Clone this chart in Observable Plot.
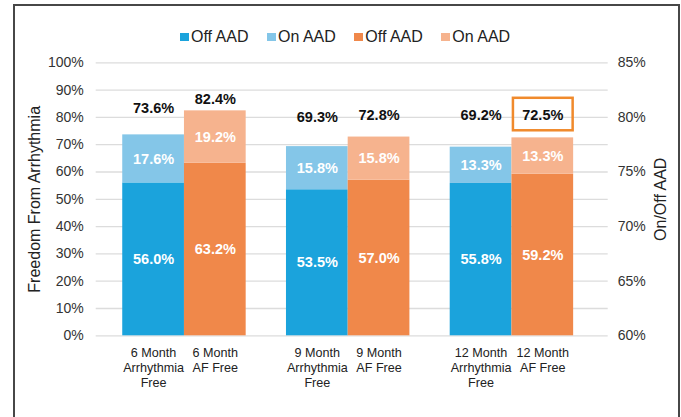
<!DOCTYPE html>
<html>
<head>
<meta charset="utf-8">
<script src="https://cdn.jsdelivr.net/npm/d3@7"></script>
<script src="https://cdn.jsdelivr.net/npm/@observablehq/plot@0.6"></script>
<style>
  html, body { margin: 0; padding: 0; background: #fff; }
  #wrap { position: relative; width: 681px; height: 417px; overflow: hidden; font-family: "Liberation Sans", Arial, sans-serif; }
  #frame { position: absolute; left: 13px; top: 3.5px; width: 667px; height: 480px; border: 2px solid #474747; box-sizing: border-box; }
  #legend { position: absolute; left: 180px; top: 29px; display: flex; align-items: center; gap: 18.5px; font-size: 16px; color: #222; line-height: 16px; }
  #legend .item { display: flex; align-items: center; gap: 2.5px; }
  #legend .sw { width: 8.5px; height: 8.5px; display: inline-block; }
  #chart { position: absolute; left: 0; top: 0; }
</style>
</head>
<body>
<div id="wrap">
  <div id="chart"></div>
  <div id="frame"></div>
  <div id="legend"></div>
</div>
<script>
// ---- data ----
const groups = ["6 Month", "9 Month", "12 Month"];
const measures = ["Arrhythmia Free", "AF Free"];
const offAAD = [56.0, 63.2, 53.5, 57.0, 55.8, 59.2];
const onAAD = [17.6, 19.2, 15.8, 15.8, 13.3, 13.3];
const totals = [73.6, 82.4, 69.3, 72.8, 69.2, 72.5];
const tickLabels = [
  "6 Month\nArrhythmia\nFree", "6 Month\nAF Free",
  "9 Month\nArrhythmia\nFree", "9 Month\nAF Free",
  "12 Month\nArrhythmia\nFree", "12 Month\nAF Free"
];
const leftTicks = [0, 10, 20, 30, 40, 50, 60, 70, 80, 90, 100];
const rightTicks = [60, 65, 70, 75, 80, 85];
const totalLabelLevel = [83.3, 86.6, 80.0, 80.7, 80.7, 80.7];
const highlightIndex = 5;
const legendItems = [
  {label: "Off AAD", key: "Arrhythmia Free|Off"},
  {label: "On AAD", key: "Arrhythmia Free|On"},
  {label: "Off AAD", key: "AF Free|Off"},
  {label: "On AAD", key: "AF Free|On"}
];
const seriesKeys = ["Arrhythmia Free|Off", "Arrhythmia Free|On", "AF Free|Off", "AF Free|On"];
const seriesColors = ["#1ba3dc", "#84c6e8", "#f0884a", "#f6b38e"];

// ---- layout helpers ----
const groupPitch = 2.653; // in bar-width units
const bars = offAAD.map((v, i) => {
  const g = Math.floor(i / 2), s = i % 2;
  const x1 = g * groupPitch + s;
  return {i, group: groups[g], measure: measures[s], x1, x2: x1 + 1, xc: x1 + 0.5,
          off: v, on: onAAD[i], total: totals[i], tick: tickLabels[i], labelAt: totalLabelLevel[i]};
});
const segments = bars.flatMap(b => [
  {x1: b.x1, x2: b.x2, xc: b.xc, y1: 0, y2: b.off, value: b.off, key: b.measure + "|Off"},
  {x1: b.x1, x2: b.x2, xc: b.xc, y1: b.off, y2: b.off + b.on, value: b.on, key: b.measure + "|On"}
]);
const fmt = v => v.toFixed(1) + "%";
const hl = bars[highlightIndex];

const chart = Plot.plot({
  width: 681,
  height: 417,
  marginLeft: 95.7,
  marginRight: 73.3,
  marginTop: 62.3,
  marginBottom: 81.7,
  style: {fontFamily: "'Liberation Sans', Arial, sans-serif", background: "transparent", overflow: "visible"},
  x: {type: "linear", domain: [-0.43, 2 * groupPitch + 2 + 0.56], axis: null},
  y: {domain: [0, 100]},
  color: {domain: seriesKeys, range: seriesColors},
  marks: [
    Plot.ruleY(leftTicks, {stroke: "#dcdcdc", strokeWidth: 1.3}),
    Plot.rect(segments, {x1: "x1", x2: "x2", y1: "y1", y2: "y2", fill: "key"}),
    Plot.text(segments, {x: "xc", y: d => (d.y1 + d.y2) / 2, text: d => fmt(d.value),
      fill: "white", fontWeight: "bold", fontSize: 14.5}),
    Plot.text(bars, {x: "xc", y: "labelAt", text: d => fmt(d.total),
      fill: "#111", fontWeight: "bold", fontSize: 14.5}),
    Plot.rect([hl], {x1: "x1", x2: "x2", y1: d => d.labelAt - 5.6, y2: d => d.labelAt + 6.3,
      fill: "none", stroke: "#f08a2c", strokeWidth: 2.5, insetLeft: 1.5, insetRight: 0.5}),
    Plot.text(bars, {x: "xc", y: 0, text: "tick", lineAnchor: "top", dy: 10,
      fontSize: 12.6, lineHeight: 1.2, fill: "#222"}),
    Plot.axisY(leftTicks, {anchor: "left", tickSize: 0, tickPadding: 12.5, fontSize: 14,
      tickFormat: d => d + "%", fill: "#333", label: null}),
    Plot.axisY(rightTicks.map(v => (v - 60) * 4), {anchor: "right", tickSize: 0, tickPadding: 9.5, fontSize: 14,
      tickFormat: d => (60 + d / 4) + "%", fill: "#333", label: null}),
    Plot.text(["Freedom From Arrhythmia"], {text: d => d, frameAnchor: "left", textAnchor: "middle",
      rotate: -90, dx: -61, fontSize: 16, fill: "#222"}),
    Plot.text(["On/Off AAD"], {text: d => d, frameAnchor: "right", textAnchor: "middle",
      rotate: -90, dx: 52.5, fontSize: 16, fill: "#222"})
  ]
});
document.getElementById("chart").appendChild(chart);

// legend
const colorOf = k => seriesColors[seriesKeys.indexOf(k)];
const legend = document.getElementById("legend");
legendItems.forEach(it => {
  const el = document.createElement("span");
  el.className = "item";
  const sw = document.createElement("span");
  sw.className = "sw";
  sw.style.background = colorOf(it.key);
  const tx = document.createElement("span");
  tx.textContent = it.label;
  el.appendChild(sw);
  el.appendChild(tx);
  legend.appendChild(el);
});
</script>
</body>
</html>
